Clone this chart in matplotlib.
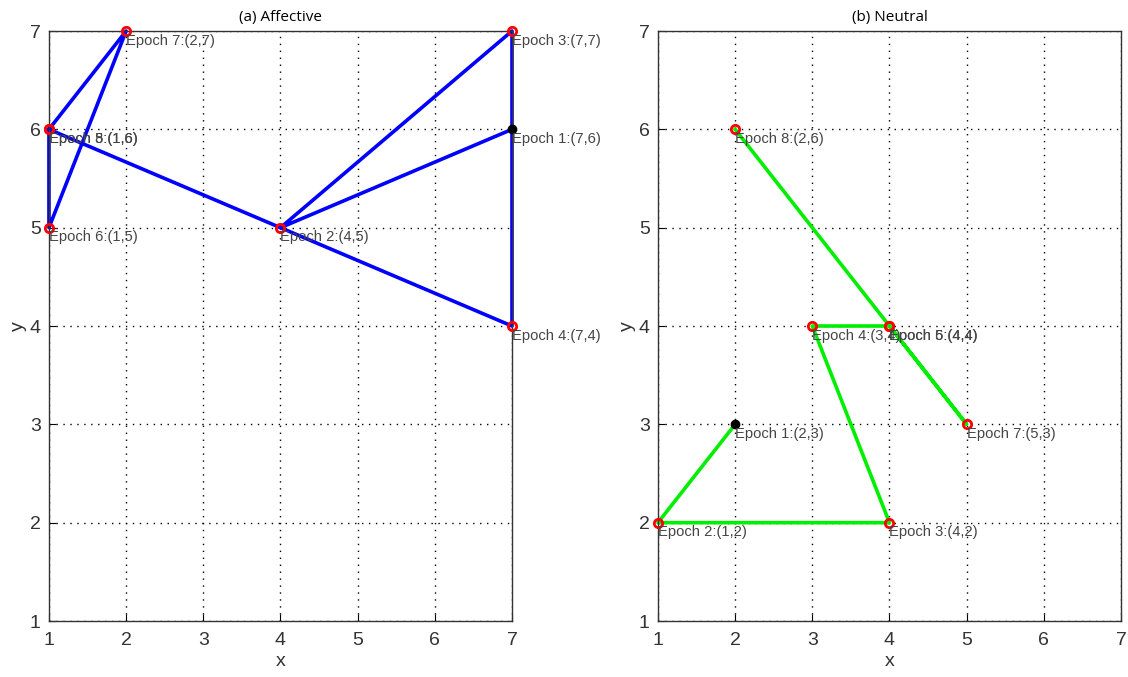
import matplotlib
matplotlib.use('Agg')
from matplotlib import pyplot as plt

plt.rcParams['font.family'] = ['Liberation Sans', 'DejaVu Sans']

# epoch positions for each condition
aff_x = [7, 4, 7, 7, 1, 1, 2, 1]
aff_y = [6, 5, 7, 4, 6, 5, 7, 6]
neu_x = [2, 1, 4, 3, 4, 4, 5, 2]
neu_y = [3, 2, 2, 4, 4, 4, 3, 6]


def draw(ax, xs, ys, color, title):
    ax.plot(xs, ys, c=color, lw=2.6, zorder=2, clip_on=False)
    ax.plot(xs[1:], ys[1:], 'o', ms=6, mfc='none', mec='red', mew=2,
            zorder=3, clip_on=False)
    ax.plot(xs[0], ys[0], 'o', ms=6, mfc='black', mec='black', zorder=3,
            clip_on=False)
    for i, (x, y) in enumerate(zip(xs, ys)):
        ax.annotate('Epoch %d:(%d,%d)' % (i + 1, x, y), (x, y), xytext=(0, -2),
                    textcoords='offset points', ha='left', va='top',
                    fontsize=10.6, color='#454545', zorder=4, annotation_clip=False)
    ax.set_xlim(1, 7)
    ax.set_ylim(1, 7)
    ax.set_xticks(range(1, 8))
    ax.set_yticks(range(1, 8))
    ax.grid(True, linestyle=(0, (1, 4)), color='black', lw=1.0)
    ax.tick_params(direction='in', labelsize=14, length=5, pad=6,
                   labelcolor='#333333')
    ax.tick_params(axis='x', pad=8)
    ax.set_xlabel('x', fontsize=14, color='#333333', labelpad=3)
    ax.set_ylabel('y', fontsize=14, color='#333333', labelpad=2)
    ax.set_title(title, fontsize=11, family=['Open Sans', 'DejaVu Sans'], pad=7)
    for s in ax.spines.values():
        s.set_linewidth(1.0)
        s.set_color('#333333')


fig = plt.figure(figsize=(11.28, 6.77), dpi=100)
ax1 = fig.add_axes([0.0434, 0.0827, 0.4105, 0.8715])
ax2 = fig.add_axes([0.5833, 0.0827, 0.4105, 0.8715])
draw(ax1, aff_x, aff_y, 'blue', '(a) Affective')
draw(ax2, neu_x, neu_y, '#00ee00', '(b) Neutral')

fig.savefig('out.png', dpi=100)
